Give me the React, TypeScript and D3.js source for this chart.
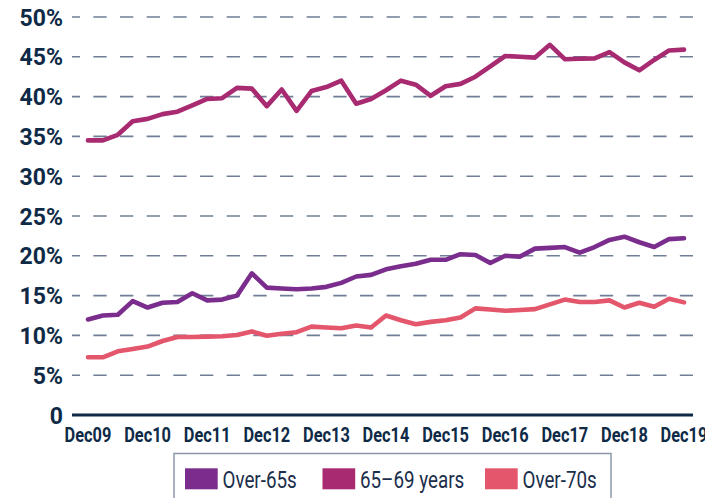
import React from "react";
import * as d3 from "d3";

const yearLabels = ["Dec09", "Dec10", "Dec11", "Dec12", "Dec13", "Dec14", "Dec15", "Dec16", "Dec17", "Dec18", "Dec19"];
const yTicks = [0, 5, 10, 15, 20, 25, 30, 35, 40, 45, 50];

// Quarterly values, Dec09 .. Dec19 (41 points), percent
const over65 = [12.0, 12.5, 12.6, 14.3, 13.5, 14.1, 14.2, 15.3, 14.4, 14.5, 15.0, 17.8, 16.0, 15.9, 15.8, 15.9, 16.1, 16.6, 17.4, 17.6, 18.3, 18.7, 19.0, 19.5, 19.5, 20.2, 20.1, 19.1, 20.0, 19.9, 20.9, 21.0, 21.1, 20.4, 21.1, 22.0, 22.4, 21.7, 21.1, 22.1, 22.2];
const aged6569 = [34.5, 34.5, 35.2, 36.9, 37.2, 37.8, 38.1, 38.9, 39.7, 39.8, 41.1, 41.0, 38.8, 40.9, 38.2, 40.7, 41.2, 42.0, 39.1, 39.7, 40.8, 42.0, 41.5, 40.1, 41.3, 41.6, 42.5, 43.8, 45.1, 45.0, 44.9, 46.5, 44.7, 44.75, 44.8, 45.6, 44.3, 43.3, 44.6, 45.8, 45.9];
const over70 = [7.25, 7.25, 8.0, 8.3, 8.6, 9.3, 9.8, 9.8, 9.85, 9.9, 10.05, 10.5, 9.95, 10.2, 10.4, 11.1, 11.0, 10.9, 11.25, 11.0, 12.5, 11.9, 11.4, 11.7, 11.9, 12.25, 13.4, 13.25, 13.1, 13.2, 13.3, 13.9, 14.5, 14.2, 14.2, 14.4, 13.5, 14.1, 13.6, 14.6, 14.15];

const seriesNames = ["Over-65s", "65\u201369 years", "Over-70s"];
const seriesColors = ["#7A2D8C", "#A82A70", "#E4566B"];
const seriesData = [over65, aged6569, over70];

const W = 705;
const H = 498;
const NAVY = "#0E2A47";

export default function App() {
  const x = d3.scaleLinear().domain([0, 40]).range([88, 684]);
  const y = d3.scaleLinear().domain([0, 50]).range([415, 17]);
  const gridX0 = 72;
  const gridX1 = 693;

  const line = d3
    .line<number>()
    .x((_, i) => x(i))
    .y((d) => y(d));

  // Draw order: 65-69 and over-70 first, over-65 on top
  const order = [1, 2, 0];

  const legendItems = [
    { sx: 185, tx: 222.5, tw: 75 },
    { sx: 322.5, tx: 360, tw: 99 },
    { sx: 485, tx: 522.5, tw: 74 },
  ];

  return (
    <svg
      width={W}
      height={H}
      style={{ position: "absolute", left: 0, top: 0, background: "#fff" }}
      fontFamily="Roboto, 'Noto Sans', sans-serif"
    >
      {yTicks
        .filter((t) => t > 0)
        .map((t) => (
          <line
            key={"g" + t}
            x1={gridX0}
            x2={gridX1}
            y1={y(t)}
            y2={y(t)}
            stroke="#6F7E94"
            strokeWidth={1.6}
            strokeDasharray="13.33 13.33"
            strokeDashoffset={5.33}
          />
        ))}
      {yTicks.map((t) => (
        <text
          key={"yl" + t}
          x={63}
          y={y(t) + 8.5}
          textAnchor="end"
          fontSize={23}
          fontWeight={700}
          fill={NAVY}
        >
          {t === 0 ? "0" : `${t}%`}
        </text>
      ))}
      {yearLabels.map((lab, i) => (
        <text
          key={lab}
          transform={`translate(${x(i * 4)},${441.5}) scale(0.82,1)`}
          textAnchor="middle"
          fontSize={20}
          fontWeight={700}
          fill={NAVY}
        >
          {lab}
        </text>
      ))}
      {order.map((k) => (
        <path
          key={seriesNames[k]}
          d={line(seriesData[k]) || ""}
          fill="none"
          stroke={seriesColors[k]}
          strokeWidth={4.6}
          strokeLinejoin="round"
          strokeLinecap="round"
        />
      ))}
      <line x1={gridX0} x2={gridX1} y1={y(0)} y2={y(0)} stroke={NAVY} strokeWidth={3} />
      <rect x={174} y={453.5} width={437} height={60} fill="#fff" stroke="#8C98AA" strokeWidth={1.5} />
      {legendItems.map((it, k) => (
        <g key={"lg" + k}>
          <rect x={it.sx} y={468.3} width={32.7} height={21} fill={seriesColors[k]} />
          <text
            transform={`translate(${it.tx},${487.5}) scale(0.8,1)`}
            fontSize={23.5}
            fill="#1B2E4B"
          >
            {seriesNames[k]}
          </text>
        </g>
      ))}
    </svg>
  );
}
